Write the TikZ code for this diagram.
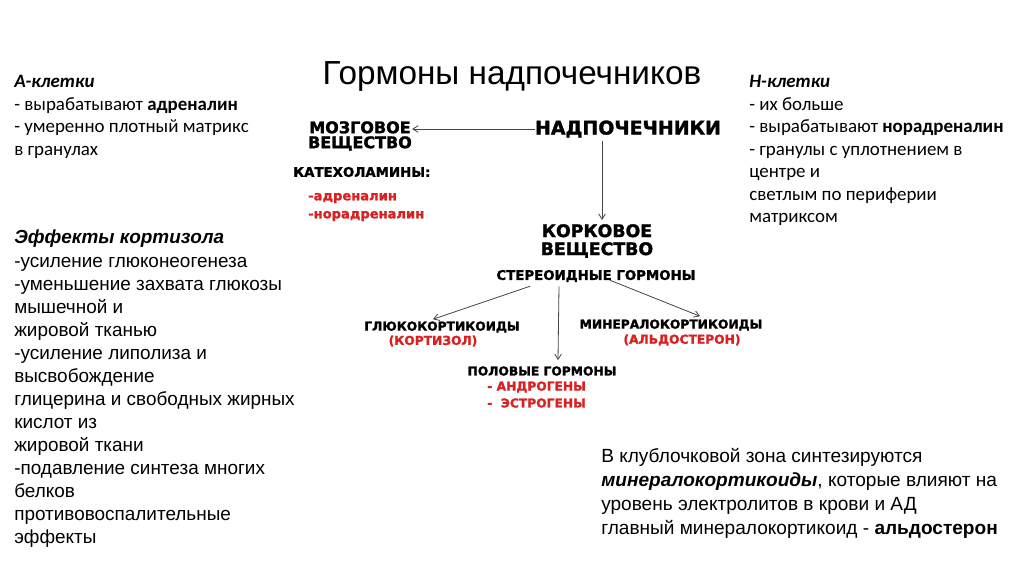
\documentclass[tikz,border=0pt]{standalone}
\usepackage{fontspec}
\newfontfamily\arialfont{Liberation Sans}
\newfontfamily\calfont{Carlito}
\newfontfamily\heavyfont{DejaVu Sans}[BoldFeatures={FakeBold=1.6}]
\definecolor{hormRed}{HTML}{D92121}
\definecolor{arrowGray}{HTML}{444444}
\usepackage{tikz}
\usetikzlibrary{arrows.meta, positioning, calc}

\begin{document}
\begin{tikzpicture}[x=0.75pt, y=-0.75pt,
    every node/.style={inner sep=0pt},
    cellText/.style={anchor=north west, align=left, font=\calfont\fontsize{14.2}{16.9}\selectfont},
    noteText/.style={anchor=north west, align=left, font=\arialfont\fontsize{14.2}{17.3}\selectfont},
    bigCaps/.style={align=center, font=\heavyfont\bfseries\fontsize{12}{11.2}\selectfont},
    smallCaps/.style={font=\heavyfont\bfseries\fontsize{9.2}{11}\selectfont},
    redCaps/.style={smallCaps, text=hormRed},
    redList/.style={redCaps, anchor=west, font=\heavyfont\bfseries\fontsize{9.8}{11}\selectfont},
    arr/.style={draw=arrowGray, line width=0.6pt, -{Straight Barb[length=4pt, width=5pt]}}]
  \useasboundingbox (0,0) rectangle (1024,576);

  % title
  \node[anchor=base, font=\arialfont\fontsize{25}{25}\selectfont] (title) at (512,84) {Гормоны надпочечников};

  % side notes
  \node[cellText] (acells) at (14,75) {\textbf{\textit{А-клетки}}\\
    - вырабатывают \textbf{адреналин}\\
    - умеренно плотный матрикс\\
    в гранулах};
  \node[cellText] (ncells) at (749,75) {\textbf{\textit{Н-клетки}}\\
    - их больше\\
    - вырабатывают \textbf{норадреналин}\\
    - гранулы с уплотнением в\\
    центре и\\
    светлым по периферии\\
    матриксом};
  \node[noteText] (cortisol) at (14,230) {\textbf{\textit{Эффекты кортизола}}\\
    -усиление глюконеогенеза\\
    -уменьшение захвата глюкозы\\
    мышечной и\\
    жировой тканью\\
    -усиление липолиза и\\
    высвобождение\\
    глицерина и свободных жирных\\
    кислот из\\
    жировой ткани\\
    -подавление синтеза многих\\
    белков\\
    противовоспалительные\\
    эффекты};
  \node[noteText, font=\arialfont\fontsize{14.3}{18}\selectfont] (zona) at (601,448) {В клублочковой зона синтезируются\\
    \textbf{\textit{минералокортикоиды}}, которые влияют на\\
    уровень электролитов в крови и АД\\
    главный минералокортикоид - \textbf{альдостерон}};

  % scheme
  \node[bigCaps, font=\heavyfont\bfseries\fontsize{14.2}{14}\selectfont] (nadp) at (628,129) {НАДПОЧЕЧНИКИ};
  \node[bigCaps] (mozg) at (360,136) {МОЗГОВОЕ\\ВЕЩЕСТВО};
  \node[smallCaps, anchor=west, font=\heavyfont\bfseries\fontsize{10}{11}\selectfont] (kateh) at (293,172) {КАТЕХОЛАМИНЫ:};
  \node[redList] (adren) at (308,198) {-адреналин};
  \node[redList] (noradren) at (308,216) {-норадреналин};

  \node[bigCaps, font=\heavyfont\bfseries\fontsize{13}{13.5}\selectfont] (kork) at (597,241) {КОРКОВОЕ\\ВЕЩЕСТВО};
  \node[smallCaps, font=\heavyfont\bfseries\fontsize{10}{11}\selectfont] (steroid) at (596,276) {СТЕРЕОИДНЫЕ ГОРМОНЫ};

  \node[smallCaps] (gluko) at (442,327) {ГЛЮКОКОРТИКОИДЫ};
  \node[redCaps] (kortizol) at (433,341) {(КОРТИЗОЛ)};
  \node[smallCaps] (mineral) at (671,325) {МИНЕРАЛОКОРТИКОИДЫ};
  \node[redCaps] (aldost) at (682,340) {(АЛЬДОСТЕРОН)};
  \node[smallCaps] (polov) at (542,371) {ПОЛОВЫЕ ГОРМОНЫ};
  \node[redCaps, anchor=west] (androg) at (487,387) {- АНДРОГЕНЫ};
  \node[redCaps, anchor=west] (estrog) at (487,403) {-~~ЭСТРОГЕНЫ};

  % connectors
  \draw[arr] (nadp.west) -- (nadp.west -| mozg.east);
  \draw[arr] ($(nadp.south)+(-26,3)$) -- ($(kork.north)+(5,-4)$);
  \draw[arr] ($(steroid.south)+(-66,4)$) -- ($(gluko.north)+(-9,-2)$);
  \draw[arr] ($(steroid.south)+(-37,4)$) -- ($(polov.north)+(16,-6)$);
  \draw[arr] ($(steroid.south)+(14,-2)$) -- ($(mineral.north)+(29,-3)$);
\end{tikzpicture}
\end{document}
